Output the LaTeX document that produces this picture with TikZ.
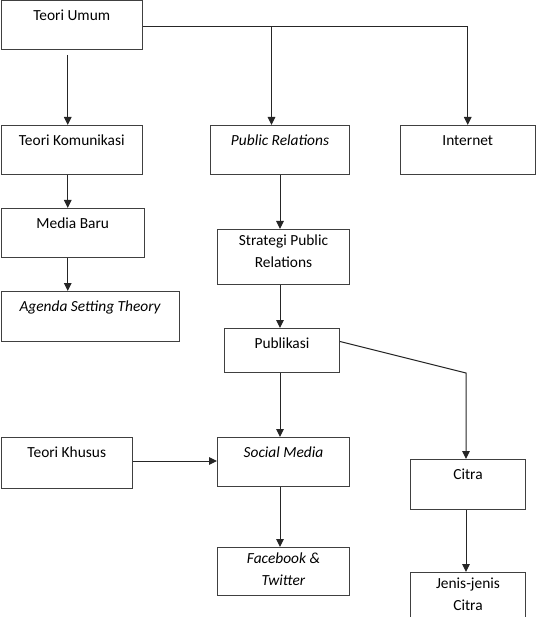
\documentclass[tikz,border=0pt]{standalone}
\usepackage{fontspec}
\setmainfont{Carlito}
\usetikzlibrary{arrows.meta}
\newcommand\bx[6]{%
  \node[box, minimum width={#4-#2}, minimum height={#5-#3}] (#1) at (#2,#3) {};
  \node[lbl] (#1t) at ([yshift=-6pt]#1.north) {#6};}
\begin{document}
\begin{tikzpicture}[x=1pt,y=-1pt,
  box/.style={draw=black!75, line width=1pt, inner sep=0pt, anchor=north west},
  lbl/.style={inner sep=0pt, anchor=north, align=center, font=\fontsize{15.4}{22}\selectfont, text=black, execute at begin node={\rule{0pt}{14pt}}},
  arr/.style={draw=black!85, line width=1pt, -{Triangle[length=8pt,width=7.5pt]}},
  ln/.style={draw=black!85, line width=1pt}]
\useasboundingbox (0,0) rectangle (535,617);
\bx{TU}{0.5}{0.5}{142}{49}{Teori Umum}
\bx{TK}{0.5}{125}{142}{174}{Teori Komunikasi}
\bx{PR}{210}{125}{349}{174}{\textit{Public Relations}}
\bx{IN}{400}{125}{534.5}{174}{Internet}
\bx{MB}{0.5}{208}{144}{257}{Media Baru}
\bx{AS}{0.5}{291}{179}{341}{\textit{Agenda Setting Theory}}
\bx{ST}{217}{229}{349}{284}{Strategi Public\\Relations}
\bx{PB}{224}{328}{339}{372}{Publikasi}
\bx{TH}{0.5}{437}{132}{488}{Teori Khusus}
\bx{SM}{217}{437}{349}{486}{\textit{Social Media}}
\bx{CI}{410}{459}{525}{509}{Citra}
\bx{FB}{217}{547}{349}{595}{\textit{Facebook \&}\\\textit{Twitter}}
\bx{JJ}{410}{572}{525}{630}{Jenis-jenis\\Citra}
% connectors
\coordinate (j1) at ([yshift=-1.5pt]TU.east);
\coordinate (PRd) at ([xshift=-8.5pt]PR.north);
\draw[arr] ([xshift=-4pt,yshift=-5pt]TU.south) -- ([xshift=-4pt]TK.north);
\draw[arr] (j1) -| (IN.north);
\draw[arr] (j1 -| PRd) -- (PRd);
\draw[arr] ([xshift=-4pt]TK.south) -- ([xshift=-4pt]TK.south |- MB.north);
\draw[arr] ([xshift=-5pt]MB.south) -- ([xshift=-5pt]MB.south |- AS.north);
\draw[arr] (PR.south) -- (PR.south |- ST.north);
\draw[arr] (PR.south |- ST.south) -- (PR.south |- PB.north);
\draw[arr] (PR.south |- PB.south) -- (PR.south |- SM.north);
\draw[arr] (PR.south |- SM.south) -- (PR.south |- FB.north);
\coordinate (bend) at ([xshift=-2pt]CI.north |- PB.south);
\draw[arr] ([yshift=9pt]PB.east) -- (bend) -- (bend |- CI.north);
\draw[arr] ([yshift=2pt]TH.east) -- ([yshift=2pt]TH.east -| SM.west);
\draw[arr] ([xshift=-2pt]CI.south) -- ([xshift=-2pt]CI.south |- JJ.north);
\end{tikzpicture}
\end{document}
